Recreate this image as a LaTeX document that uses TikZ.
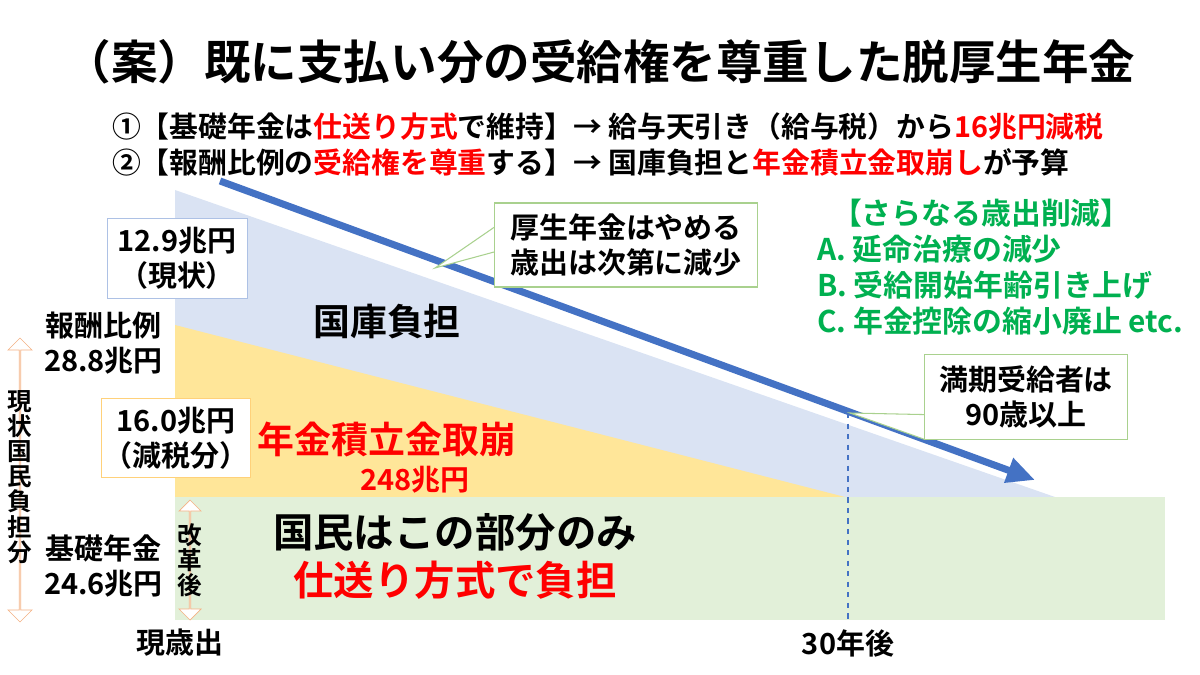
\documentclass[tikz,border=0pt]{standalone}
\usepackage{fontspec}
\setmainfont{Noto Sans CJK JP}[BoldFont={Noto Sans CJK JP Bold}]
\usetikzlibrary{arrows.meta,shapes.arrows}
\definecolor{bfill}{HTML}{DAE3F3}
\definecolor{yfill}{HTML}{FFE699}
\definecolor{gfill}{HTML}{E2F0D9}
\definecolor{barrow}{HTML}{4472C4}
\definecolor{gtext}{HTML}{00B050}
\definecolor{cborder}{HTML}{A9D18E}
\definecolor{oarrow}{HTML}{F4B183}
\tikzset{
 lbl/.style={font=\fontsize{16.5}{20}\selectfont\bfseries, align=center, inner sep=1pt},
 big/.style={font=\fontsize{21}{25}\selectfont\bfseries, align=center, inner sep=1pt},
 callout/.style={draw=cborder, fill=white, line width=0.6pt}
}
\begin{document}
\begin{tikzpicture}[x=0.02cm,y=-0.02cm]
\useasboundingbox (0,0) rectangle (1200,675);
% areas
\fill[bfill] (175,190) -- (1055,497) -- (175,497) -- cycle;
\fill[yfill] (175,325) -- (845,497) -- (175,497) -- cycle;
\fill[gfill] (175,497) rectangle (1165,620);
\draw[barrow, dashed, line width=1.2pt] (848,413) -- (848,620);
\coordinate (as) at (220,181);
\coordinate (ae) at (1035,480);
\draw[barrow, line width=4pt, -{Triangle[length=16pt,width=14pt]}] (as) -- (ae);
% title
\node[font=\fontsize{26.5}{30}\selectfont\bfseries] (title) at (600,62) {（案）既に支払い分の受給権を尊重した脱厚生年金};
\node[lbl, anchor=west, font=\fontsize{16.4}{19}\selectfont\bfseries] (s1) at (110,127) {①【基礎年金は\textcolor{red}{仕送り方式}で維持】→ 給与天引き（給与税）から\textcolor{red}{16兆円減税}};
\node[lbl, anchor=west, font=\fontsize{16.4}{19}\selectfont\bfseries] (s2) at (110,162) {②【報酬比例の\textcolor{red}{受給権を尊重}する】→ 国庫負担と\textcolor{red}{年金積立金取崩し}が予算};
% boxes
\node[lbl, draw=bfill!70!barrow, fill=white, minimum width=140*0.02cm, minimum height=80*0.02cm] (b1) at (177,258) {12.9兆円\\（現状）};
\node[lbl, draw=yfill!80!orange, fill=white, minimum width=138*0.02cm, minimum height=79*0.02cm] (b2) at (176,438) {16.0兆円\\（減税分）};
\node[lbl, anchor=west] (hr) at (42,343) {報酬比例\\28.8兆円};
\node[lbl, anchor=west] (kk) at (42,566) {基礎年金\\24.6兆円};
% arrows left
\node[draw=oarrow, fill=white, double arrow, double arrow head extend=3pt, minimum height=284*0.02cm, minimum width=24*0.02cm, inner sep=0pt, shape border rotate=90] (la) at (20,480) {};
\node[font=\fontsize{14}{14.3}\selectfont\bfseries, align=center] (lt) at (20,477) {現\\状\\国\\民\\負\\担\\分};
\node[draw=oarrow, fill=white, double arrow, double arrow head extend=3pt, minimum height=120*0.02cm, minimum width=22*0.02cm, inner sep=0pt, shape border rotate=90] (sa) at (190,560) {};
\node[font=\fontsize{14}{14.3}\selectfont\bfseries, align=center] (st) at (190,560) {改\\革\\後};
% area labels
\node[big] (kokko) at (387,322) {国庫負担};
\node[big, text=red] (tsumi) at (387,440) {年金積立金取崩};
\node[lbl, text=red] (t248) at (415,480) {248兆円};
\node[big, font=\fontsize{23}{27}\selectfont\bfseries] (km) at (455,532) {国民はこの部分のみ};
\node[big, font=\fontsize{23}{27}\selectfont\bfseries, text=red] (sh) at (455,580) {仕送り方式で負担};
% callouts
\coordinate (p1) at (435,268);
\node[lbl, callout, minimum width=263*0.02cm, minimum height=84*0.02cm] (c1) at (626,245) {厚生年金はやめる\\歳出は次第に減少};
\draw[cborder, line width=0.6pt, fill=white] ([yshift=-4]c1.west) -- (p1) -- ([yshift=10]c1.west);
\coordinate (p2) at (850,413);
\node[lbl, callout, minimum width=203*0.02cm, minimum height=85*0.02cm] (c2) at (1026,397) {満期受給者は\\90歳以上};
\draw[cborder, line width=0.6pt, fill=white] ([yshift=-10]c2.west) -- (p2) -- ([yshift=-24]c2.west);
% green list
\node[lbl, text=gtext, anchor=north west, align=left, font=\fontsize{17}{20.4}\selectfont\bfseries] (gl) at (815,197) {\hspace*{0.5em}【さらなる歳出削減】\\A. 延命治療の減少\\B. 受給開始年齢引き上げ\\C. 年金控除の縮小廃止 etc.};
% axis labels
\node[lbl] (x0) at (180,643) {現歳出};
\node[lbl] (x30) at (848,643) {30年後};
\end{tikzpicture}
\end{document}
